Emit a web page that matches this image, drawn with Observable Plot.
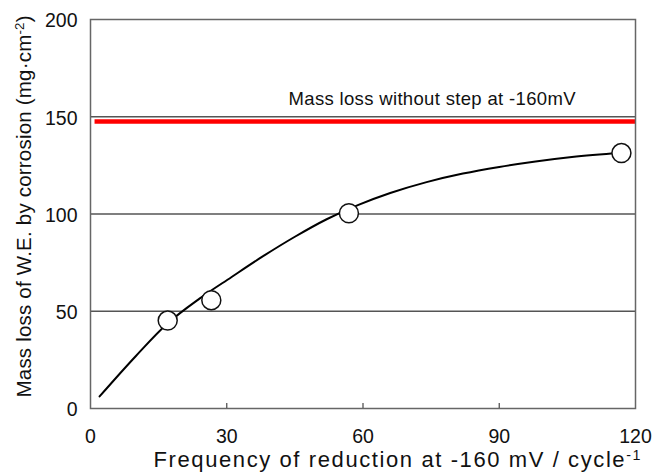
<!DOCTYPE html>
<html>
<head>
<meta charset="utf-8">
<script src="https://cdn.jsdelivr.net/npm/d3@7"></script>
<script src="https://cdn.jsdelivr.net/npm/@observablehq/plot@0.6"></script>
<style>
  html, body { margin: 0; padding: 0; background: #ffffff; }
  #chart { width: 653px; height: 472px; }
</style>
</head>
<body>
<div id="chart"></div>
<script>
// ---- data ----
const measuredFreq = [17, 26.6, 56.9, 116.9];
const measuredLoss = [45.2, 55.7, 100.4, 131.3];

const curveFreq = [2, 10, 17, 24, 31, 38, 45, 52, 59, 66, 74, 82, 90, 98, 106, 117];
const curveLoss = [6.2, 27, 43.8, 56.5, 67.5, 78.3, 88.3, 97.3, 104.7, 110.8, 116.4, 120.8, 124.2, 127.0, 129.3, 131.5];

const referenceLoss = [147.5];
const referenceFreqRange = [1, 120];
const referenceLabel = "Mass loss without step at -160mV";
const referenceLabelPos = [43.6, 155.8];

const xTicks = [0, 30, 60, 90, 120];
const xInnerTicks = [30, 60, 90];
const yTicks = [0, 50, 100, 150, 200];
const yGrid = [50, 100, 150];

const xTitle = "Frequency of reduction at -160 mV / cycle";
const xTitleSup = "-1";
const yTitle = "Mass loss of W.E. by corrosion (mg·cm";
const yTitleSup = "-2";
const yTitleEnd = ")";

// ---- tables built from the arrays ----
const points = measuredFreq.map((f, i) => ({freq: f, loss: measuredLoss[i]}));
const curve = curveFreq.map((f, i) => ({freq: f, loss: curveLoss[i]}));
const refLine = referenceLoss.map(v => ({loss: v, x1: referenceFreqRange[0], x2: referenceFreqRange[1]}));

const FONT = "'Liberation Sans', Arial, Helvetica, sans-serif";

const chart = Plot.plot({
  width: 653,
  height: 472,
  marginLeft: 90,
  marginRight: 18,
  marginTop: 19,
  marginBottom: 64,
  style: {fontFamily: FONT, fontSize: "19px", color: "#111", background: "#ffffff", overflow: "visible"},
  x: {domain: [0, 120]},
  y: {domain: [0, 200]},
  marks: [
    Plot.ruleY(yGrid, {stroke: "#555", strokeWidth: 1.5}),
    Plot.ruleY(refLine, {y: "loss", x1: "x1", x2: "x2", stroke: "#ff0000", strokeWidth: 4.5}),
    Plot.frame({stroke: "#666", strokeWidth: 1.5}),
    Plot.axisY({ticks: yTicks, tickSize: 0, tickPadding: 13, label: null, dy: 1.5, fontSize: 19.5}),
    Plot.axisX({ticks: xTicks, tickSize: 0, tickPadding: 21, label: null, fontSize: 19.5}),
    Plot.axisX({ticks: xInnerTicks, tickSize: 5, dy: -5, text: null, label: null, stroke: "#555", strokeWidth: 1.3}),
    Plot.line(curve, {x: "freq", y: "loss", curve: "monotone-x", stroke: "#000", strokeWidth: 2}),
    Plot.dot(points, {x: "freq", y: "loss", r: 9.5, fill: "#fff", stroke: "#111", strokeWidth: 1.5}),
    Plot.text([referenceLabel], {x: () => referenceLabelPos[0], y: () => referenceLabelPos[1], text: d => d,
      textAnchor: "start", lineAnchor: "bottom", fontSize: 18.5, fill: "#111", className: "ref-label"}),
    Plot.text([xTitle], {frameAnchor: "bottom-left", text: d => d, dx: 63, dy: 58.7,
      textAnchor: "start", lineAnchor: "bottom", fontSize: 22, fill: "#111", className: "x-title"}),
    Plot.text([yTitle], {frameAnchor: "left", text: d => d, dx: -66, dy: -7.5, rotate: -90,
      textAnchor: "middle", lineAnchor: "middle", fontSize: 20.5, fill: "#111", className: "y-title"})
  ]
});

document.getElementById("chart").appendChild(chart);

// superscripts and text lengths to match reference spacing
function addSup(cls, sup, tail, len) {
  const g = chart.querySelector("g." + cls) || chart.querySelector("." + cls);
  if (!g) return;
  const t = g.querySelector("text");
  if (!t) return;
  const ns = "http://www.w3.org/2000/svg";
  const s = document.createElementNS(ns, "tspan");
  s.setAttribute("dy", "-7");
  s.setAttribute("font-size", "0.65em");
  s.textContent = sup;
  t.appendChild(s);
  if (tail) {
    const e = document.createElementNS(ns, "tspan");
    e.setAttribute("dy", "7");
    e.textContent = tail;
    t.appendChild(e);
  }
  if (len) {
    t.setAttribute("textLength", len);
    t.setAttribute("lengthAdjust", "spacing");
  }
}
addSup("x-title", xTitleSup, null, 487);
addSup("y-title", yTitleSup, yTitleEnd, 382);
const rl = chart.querySelector(".ref-label text");
if (rl) { rl.setAttribute("textLength", 287); rl.setAttribute("lengthAdjust", "spacing"); }
</script>
</body>
</html>
